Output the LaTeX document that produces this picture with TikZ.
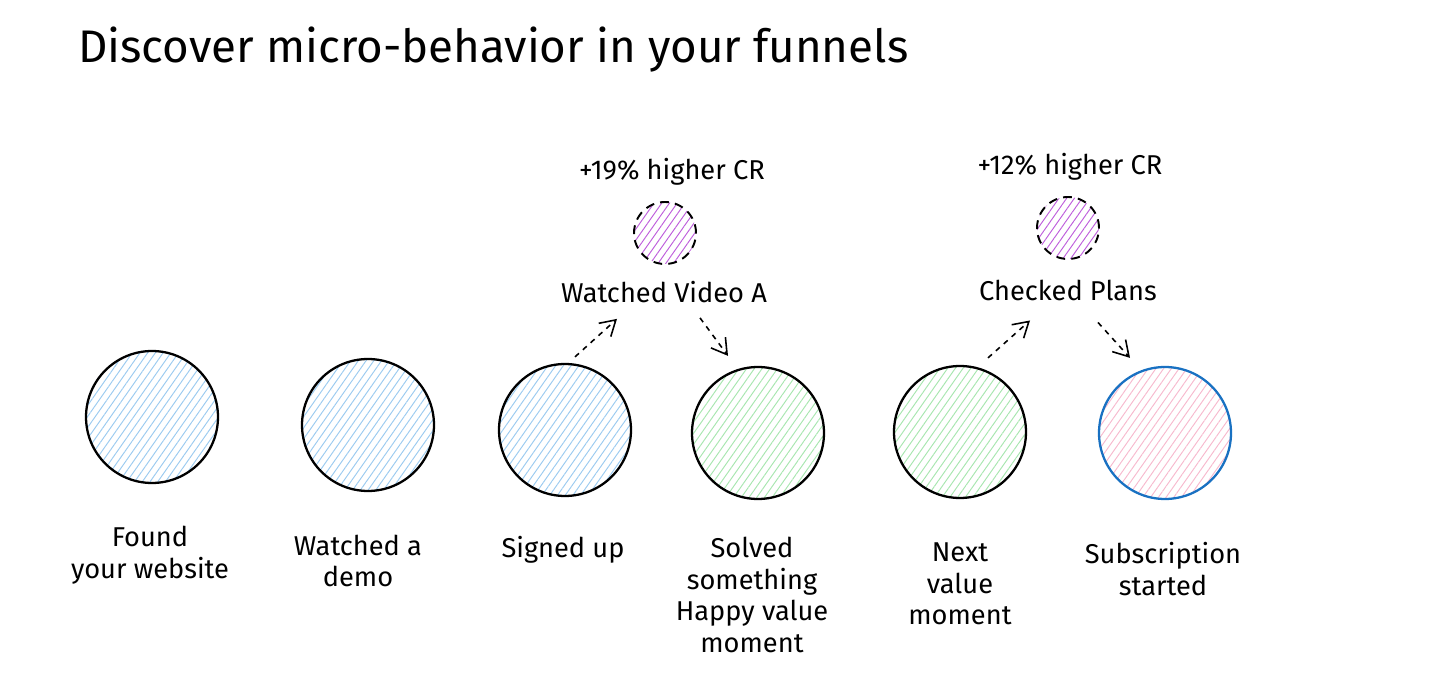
\documentclass[tikz,border=0pt]{standalone}
\usepackage{fontspec}
\setmainfont{Fira Sans}
\usetikzlibrary{patterns.meta,arrows.meta,calc}

\definecolor{hatchblue}{HTML}{9CCBF0}
\definecolor{hatchgreen}{HTML}{A8E6B0}
\definecolor{hatchpink}{HTML}{F7BACE}
\definecolor{hatchpurple}{HTML}{BE5FDC}
\definecolor{edgeblue}{HTML}{1971C2}

\tikzset{
   hatch/.style={pattern={Lines[angle=55, distance=3.6pt, line width=0.55pt]}, pattern color=#1},
   stage/.style={circle, draw=black, line width=1.3pt, minimum size=2.64cm, inner sep=0pt},
   bonus/.style={circle, draw=black, line width=1.1pt, dash pattern=on 5pt off 3.5pt,
      minimum size=1.24cm, inner sep=0pt, hatch=hatchpurple},
   caption/.style={align=center, font=\fontsize{15.5}{18}\selectfont, inner sep=1pt},
   flow/.style={dashed, line width=0.9pt, -{Straight Barb[length=3mm,width=3.6mm]}}
}

\begin{document}
\begin{tikzpicture}[x=0.02cm, y=-0.02cm]
   \useasboundingbox (0,0) rectangle (1456,685);

   \node[anchor=west, font=\fontsize{26}{30}\selectfont, inner sep=0pt] (title) at (78,50)
      {Discover micro-behavior in your funnels};

   % funnel stages
   \foreach \n/\x/\y/\c in {found/152/417/hatchblue, demo/368/425/hatchblue,
         signed/565/430/hatchblue, solved/758/433/hatchgreen, next/960/432/hatchgreen} {
      \node[stage, hatch=\c] (\n) at (\x,\y) {};
   }
   \node[stage, draw=edgeblue, hatch=hatchpink] (sub) at (1165,433) {};

   \node[caption] (lfound)  at (150,555) {Found\\your website};
   \node[caption] (ldemo)   at (358,561) {Watched a\\demo};
   \node[caption] (lsigned) at (563,550) {Signed up};
   \node[caption] (lsolved) at (752,595) {Solved\\something\\Happy value\\moment};
   \node[caption] (lnext)   at (960,584) {Next\\value\\moment};
   \node[caption] (lsub)    at (1163,569) {Subscription\\started};

   % micro-behaviors
   \node[bonus] (video) at (665,233) {};
   \node[caption] (cr1) at (672,172) {+19\% higher CR};
   \node[caption] (lvideo) at (664,292) {Watched Video A};

   \node[bonus] (plans) at (1068,228) {};
   \node[caption] (cr2) at (1070,167) {+12\% higher CR};
   \node[caption] (lplans) at (1068,290) {Checked Plans};

   \draw[flow] ($(signed.north)+(10,-6)$) -- ($(lvideo.south)+(-47,14)$);
   \draw[flow] ($(lvideo.south)+(36,13)$) -- ($(solved.north)+(-30,-10)$);
   \draw[flow] ($(next.north)+(28,-7)$) -- ($(lplans.south)+(-38,18)$);
   \draw[flow] ($(lplans.south)+(30,20)$) -- ($(sub.north)+(-35,-8)$);
\end{tikzpicture}
\end{document}
